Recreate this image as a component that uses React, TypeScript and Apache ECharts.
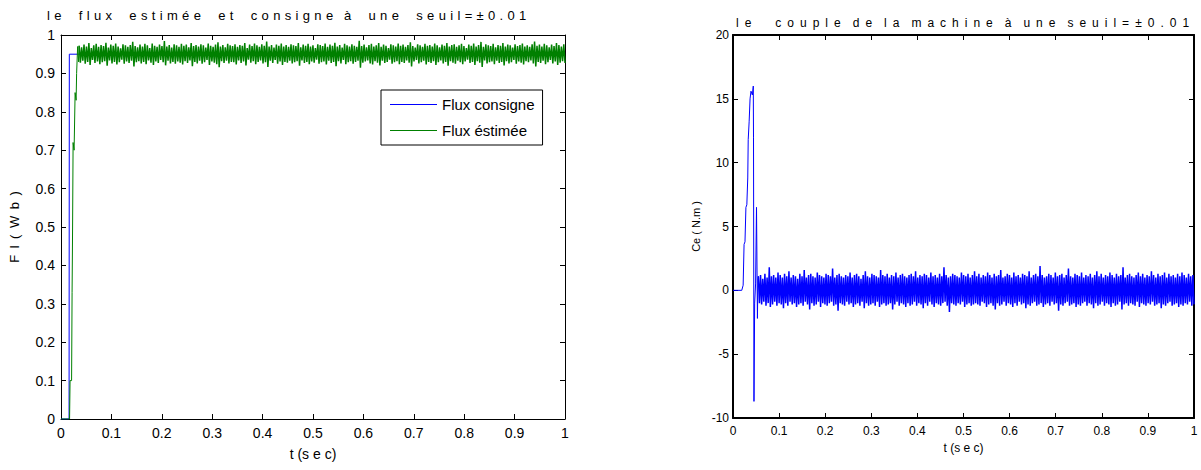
import React, { useEffect, useRef } from "react";
import * as echarts from "echarts";

// ---------- data ----------
const titleLeftWords = ["le", "flux", "estimée", "et", "consigne", "à", "une", "seuil=±0.01"];
const titleRightWords = ["le", "couple", "de", "la", "machine", "à", "une", "seuil=±0.01"];
const xName = "t (s e c)";
const yNameLeft = "F\u2002l\u2002(\u2002W\u2002b\u2002)";
const yNameRight = "Ce ( N.m )";
const legendNames = ["Flux consigne", "Flux éstimée"];

// Flux consigne (time, value)
const fluxRefT = [0, 0.016, 0.0165, 1];
const fluxRefV = [0, 0, 0.95, 0.95];

// Flux estimée : start-up transient
const fluxEstT = [0, 0.017, 0.018, 0.021, 0.022, 0.023, 0.024, 0.026, 0.028, 0.030, 0.031, 0.033, 0.035];
const fluxEstV = [0, 0, 0.1, 0.1, 0.33, 0.5, 0.72, 0.7, 0.85, 0.83, 0.9, 0.97, 0.93];
// Flux estimée : ripple band (upper / lower envelope samples)
const fluxNoiseStart = 0.036;
const fluxNoiseEnd = 1;
const fluxUpper = [
  0.972,0.968,0.975,0.970,0.979,0.966,0.973,0.977,0.969,0.974,
  0.971,0.980,0.967,0.975,0.972,0.978,0.970,0.965,0.976,0.973,
  0.969,0.974,0.982,0.971,0.968,0.975,0.970,0.977,0.973,0.966,
  0.978,0.972,0.969,0.975,0.971,0.984,0.970,0.974,0.967,0.976,
  0.973,0.969,0.977,0.972,0.975,0.968,0.979,0.971,0.974,0.970,
  0.976,0.973,0.967,0.978,0.972,0.969,0.975,0.981,0.970,0.974,
  0.968,0.977,0.973,0.971,0.976,0.969,0.974,0.972,0.979,0.966,
  0.975,0.971,0.978,0.973,0.969,0.976,0.972,0.983,0.970,0.974,
  0.967,0.975,0.972,0.978,0.970,0.974,0.969,0.976,0.973,0.971,
  0.979,0.968,0.975,0.972,0.977,0.970,0.973,0.966,0.976,0.974,
  0.971,0.978,0.969,0.975,0.972,0.980,0.970,0.974,0.967,0.977,
  0.973,0.970,0.976,0.972,0.969,0.985,0.971,0.975,0.968,0.974,
  0.977,0.970,0.973,0.979,0.969,0.975,0.972,0.966,0.976,0.973,
  0.970,0.978,0.972,0.975,0.969,0.974,0.981,0.971,0.967,0.976,
  0.973,0.969,0.977,0.972,0.974,0.970,0.978,0.973,0.968,0.975,
  0.972,0.979,0.970,0.974,0.976,0.969,0.973,0.977,0.971,0.966,
  0.975,0.972,0.978,0.970,0.974,0.982,0.969,0.976,0.973,0.971,
  0.977,0.968,0.974,0.972,0.979,0.970,0.975,0.973,0.967,0.976,
  0.971,0.974,0.978,0.970,0.973,0.969,0.976,0.983,0.972,0.975,
  0.970,0.977,0.973,0.968,0.975,0.971,0.979,0.974,0.970,0.976,
];
const fluxLower = [
  0.928,0.933,0.925,0.930,0.922,0.935,0.927,0.931,0.924,0.929,
  0.932,0.920,0.934,0.926,0.930,0.923,0.929,0.936,0.925,0.931,
  0.927,0.933,0.918,0.929,0.932,0.926,0.930,0.924,0.934,0.928,
  0.922,0.931,0.927,0.935,0.929,0.921,0.933,0.926,0.930,0.925,
  0.931,0.928,0.923,0.932,0.927,0.934,0.919,0.930,0.926,0.933,
  0.925,0.929,0.935,0.922,0.931,0.928,0.924,0.916,0.932,0.927,
  0.933,0.926,0.930,0.929,0.923,0.934,0.927,0.931,0.921,0.936,
  0.928,0.932,0.924,0.930,0.934,0.926,0.929,0.917,0.933,0.927,
  0.935,0.925,0.931,0.922,0.930,0.928,0.933,0.926,0.929,0.932,
  0.920,0.934,0.927,0.930,0.924,0.931,0.928,0.936,0.925,0.929,
  0.931,0.923,0.933,0.927,0.930,0.919,0.932,0.926,0.935,0.924,
  0.929,0.932,0.925,0.930,0.933,0.915,0.928,0.931,0.934,0.926,
  0.923,0.932,0.928,0.921,0.933,0.927,0.930,0.936,0.925,0.929,
  0.932,0.924,0.930,0.927,0.934,0.928,0.918,0.931,0.935,0.926,
  0.929,0.933,0.923,0.930,0.927,0.932,0.922,0.929,0.934,0.926,
  0.930,0.920,0.932,0.928,0.925,0.933,0.929,0.924,0.931,0.936,
  0.927,0.930,0.922,0.932,0.928,0.917,0.934,0.926,0.929,0.931,
  0.924,0.933,0.927,0.930,0.921,0.932,0.926,0.929,0.935,0.925,
  0.931,0.928,0.923,0.932,0.929,0.934,0.926,0.918,0.930,0.927,
  0.933,0.924,0.929,0.935,0.926,0.931,0.922,0.928,0.932,0.927,
];

// Couple : start-up transient
const torqueT = [0, 0.019, 0.022, 0.024, 0.026, 0.028, 0.030, 0.032, 0.033, 0.035, 0.037, 0.039, 0.042, 0.044, 0.0445, 0.0455, 0.047, 0.049, 0.051, 0.053, 0.054];
const torqueV = [0, 0, 0.4, 3.6, 3.8, 6.5, 6.7, 8.8, 11.8, 13.2, 15.0, 15.6, 15.3, 16.0, 12.0, -8.7, -1.0, 0.5, 6.5, -2.2, 0.8];
// Couple : ripple band (upper / lower envelope samples)
const torqueNoiseStart = 0.055;
const torqueNoiseEnd = 1;
const torqueUpper = [
  1.1,1.2,0.9,1.3,1.0,1.8,1.1,1.2,1.0,1.4,
  1.2,1.0,1.3,1.1,1.5,1.0,1.2,1.1,0.9,1.3,
  1.1,1.6,1.0,1.2,1.3,1.1,1.0,1.4,1.2,1.1,
  1.0,1.3,1.2,1.1,1.7,1.0,1.2,1.3,1.1,1.0,
  1.2,1.1,1.4,1.0,1.2,1.3,1.1,0.9,1.2,1.5,
  1.1,1.0,1.3,1.2,1.1,1.0,1.6,1.2,1.1,1.3,
  1.0,1.2,1.1,1.4,1.0,1.2,1.3,1.1,1.0,1.2,
  1.3,1.1,1.5,1.0,1.2,1.1,1.3,1.2,1.0,1.4,
  1.1,1.2,1.0,1.3,1.1,1.8,1.2,1.0,1.1,1.3,
  1.2,1.1,1.0,1.4,1.2,1.1,1.3,1.0,1.2,1.5,
  1.1,1.3,1.0,1.2,1.1,1.4,1.2,1.0,1.3,1.1,
  1.2,1.6,1.0,1.1,1.3,1.2,1.0,1.4,1.1,1.2,
  1.0,1.3,1.2,1.1,1.5,1.0,1.2,1.3,1.1,1.9,
  1.2,1.0,1.1,1.3,1.2,1.0,1.4,1.1,1.2,1.3,
  1.0,1.2,1.7,1.1,1.0,1.3,1.2,1.1,1.4,1.0,
  1.2,1.1,1.3,1.0,1.2,1.5,1.1,1.3,1.0,1.2,
  1.1,1.4,1.2,1.0,1.3,1.1,1.2,1.8,1.0,1.2,
  1.3,1.1,1.0,1.2,1.4,1.1,1.3,1.0,1.2,1.1,
  1.5,1.2,1.0,1.3,1.1,1.2,1.4,1.0,1.3,1.1,
  1.2,1.0,1.3,1.1,1.4,1.2,1.0,1.3,1.1,1.2,
];
const torqueLower = [
  -1.0,-1.1,-0.9,-1.2,-1.0,-1.3,-1.1,-0.9,-1.2,-1.0,
  -1.1,-1.4,-1.0,-1.2,-0.9,-1.1,-1.0,-1.3,-1.1,-1.0,
  -1.2,-0.9,-1.1,-1.5,-1.0,-1.2,-1.1,-0.9,-1.3,-1.0,
  -1.1,-1.2,-1.0,-0.9,-1.2,-1.1,-1.6,-1.0,-1.1,-1.2,
  -0.9,-1.1,-1.0,-1.3,-1.1,-1.0,-1.2,-0.9,-1.4,-1.0,
  -1.2,-1.1,-1.0,-1.2,-0.9,-1.3,-1.1,-1.0,-1.2,-1.1,
  -1.0,-1.5,-1.1,-0.9,-1.2,-1.0,-1.1,-1.3,-1.0,-1.2,
  -1.1,-0.9,-1.2,-1.0,-1.1,-1.4,-1.0,-1.2,-0.9,-1.1,
  -1.3,-1.0,-1.1,-1.2,-1.0,-0.9,-1.2,-1.7,-1.0,-1.1,
  -1.2,-1.0,-1.1,-0.9,-1.3,-1.1,-1.0,-1.2,-1.1,-1.0,
  -1.1,-1.2,-0.9,-1.0,-1.3,-1.1,-1.0,-1.2,-1.5,-1.0,
  -1.2,-1.1,-0.9,-1.2,-1.0,-1.1,-1.3,-1.0,-1.2,-0.9,
  -1.1,-1.0,-1.4,-1.1,-1.2,-1.0,-0.9,-1.2,-1.1,-1.0,
  -1.3,-1.1,-1.0,-1.2,-0.9,-1.1,-1.0,-1.6,-1.1,-1.2,
  -1.0,-0.9,-1.2,-1.1,-1.0,-1.3,-1.1,-1.2,-1.0,-0.9,
  -1.2,-1.0,-1.1,-1.4,-1.0,-1.2,-1.1,-0.9,-1.2,-1.0,
  -1.1,-1.3,-1.0,-1.2,-1.1,-0.9,-1.5,-1.1,-1.0,-1.2,
  -1.0,-1.1,-1.2,-0.9,-1.3,-1.0,-1.1,-1.2,-1.0,-1.1,
  -0.9,-1.2,-1.1,-1.0,-1.4,-1.1,-1.2,-1.0,-0.9,-1.2,
  -1.1,-1.0,-1.3,-1.1,-1.2,-1.0,-1.1,-0.9,-1.2,-1.1,
];

// ---------- helpers ----------
function pairs(t: number[], v: number[]) {
  return t.map((x, i) => [x, v[i]]);
}
function band(t0: number, t1: number, upper: number[], lower: number[]) {
  const n = upper.length * 2;
  const out: number[][] = [];
  for (let i = 0; i < upper.length; i++) {
    out.push([t0 + ((2 * i) * (t1 - t0)) / (n - 1), upper[i]]);
    out.push([t0 + ((2 * i + 1) * (t1 - t0)) / (n - 1), lower[i]]);
  }
  return out;
}
// letter-spaced title: letters separated by `sep`, words by the given gaps
function spacedTitle(words: string[], sep: string, gaps: string[]) {
  const w = words.map((x) => Array.from(x).join(sep));
  let s = w[0];
  for (let i = 1; i < w.length; i++) s += gaps[i - 1] + w[i];
  return s;
}

const FONT = "'Liberation Sans', Arial, sans-serif";
const fmt = (v: number) => String(Math.round(v * 10) / 10);

function axisX(grid: number, top: boolean, fs: number, lw: number, name?: string, nameGap?: number) {
  return {
    gridIndex: grid,
    type: "value",
    position: top ? "top" : "bottom",
    min: 0,
    max: 1,
    interval: 0.1,
    axisLine: { show: true, onZero: false, lineStyle: { color: "#000", width: lw } },
    axisTick: { show: true, inside: true, length: 5, lineStyle: { color: "#000", width: 1 } },
    axisLabel: { show: !top, fontSize: fs, color: "#000", fontFamily: FONT, margin: 7, formatter: fmt },
    splitLine: { show: false },
    name: top ? "" : name,
    nameLocation: "middle",
    nameGap: nameGap,
    nameTextStyle: { fontSize: fs, color: "#000", fontFamily: FONT },
  };
}
function axisY(grid: number, right: boolean, min: number, max: number, interval: number, fs: number, lw: number, margin: number, name?: string, nameGap?: number, formatter?: any) {
  return {
    gridIndex: grid,
    type: "value",
    position: right ? "right" : "left",
    min,
    max,
    interval,
    axisLine: { show: true, onZero: false, lineStyle: { color: "#000", width: lw } },
    axisTick: { show: true, inside: true, length: 5, lineStyle: { color: "#000", width: 1 } },
    axisLabel: { show: !right, fontSize: fs, color: "#000", fontFamily: FONT, margin, formatter },
    splitLine: { show: false },
    name: right ? "" : name,
    nameLocation: "middle",
    nameRotate: 90,
    nameGap: nameGap,
    nameTextStyle: { fontSize: fs - 1, color: "#000", fontFamily: FONT },
  };
}

export default function App() {
  const ref = useRef<HTMLDivElement>(null);
  useEffect(() => {
    if (!ref.current) return;
    const chart = echarts.init(ref.current, null, { renderer: "svg" });
    const fluxNoise = band(fluxNoiseStart, fluxNoiseEnd, fluxUpper, fluxLower);
    const torqueNoise = band(torqueNoiseStart, torqueNoiseEnd, torqueUpper, torqueLower);
    const W = "\u2003\u2004";
    const tl = spacedTitle(titleLeftWords, "\u2004", [W, W, W, W, "\u2002\u2004", W, W]);
    const E = "\u2003";
    const tr = spacedTitle(titleRightWords, "\u2002", [E + E, E, E, E, E, E, E]);
    chart.setOption({
      animation: false,
      backgroundColor: "#fff",
      textStyle: { fontFamily: FONT },
      graphic: [
        {
          type: "text",
          x: 47,
          y: 15.5,
          silent: true,
          style: { text: tl, fill: "#000", fontSize: 13, fontFamily: FONT, verticalAlign: "middle", align: "left" },
        },
        {
          type: "text",
          x: 736,
          y: 23,
          silent: true,
          style: { text: tr, fill: "#000", fontSize: 12, fontFamily: FONT, verticalAlign: "middle", align: "left" },
        },
      ],
      legend: {
        data: legendNames,
        orient: "vertical",
        left: 381,
        top: 90,
        icon: "rect",
        itemWidth: 47,
        itemHeight: 1,
        itemGap: 11,
        padding: [7, 8, 7, 9],
        borderColor: "#000",
        borderWidth: 1,
        backgroundColor: "#fff",
        textStyle: { fontSize: 15, color: "#000", fontFamily: FONT },
      },
      grid: [
        { left: 61, top: 35, width: 504, height: 384, show: false },
        { left: 733, top: 35, width: 461, height: 383, show: false },
      ],
      xAxis: [
        axisX(0, false, 14, 1, xName, 28),
        axisX(0, true, 14, 1),
        axisX(1, false, 12, 2, xName, 23),
        axisX(1, true, 12, 2),
      ],
      yAxis: [
        axisY(0, false, 0, 1, 0.1, 14, 1, 6, yNameLeft, 40, fmt),
        axisY(0, true, 0, 1, 0.1, 14, 1, 6),
        axisY(1, false, -10, 20, 5, 12, 2, 4, yNameRight, 32),
        axisY(1, true, -10, 20, 5, 12, 2, 4),
      ],
      series: [
        {
          name: legendNames[0],
          type: "line",
          xAxisIndex: 0,
          yAxisIndex: 0,
          symbol: "none",
          data: pairs(fluxRefT, fluxRefV),
          lineStyle: { color: "#0000ff", width: 1 },
          itemStyle: { color: "#0000ff" },
        },
        {
          name: legendNames[1],
          type: "line",
          xAxisIndex: 0,
          yAxisIndex: 0,
          symbol: "none",
          data: [...pairs(fluxEstT, fluxEstV), fluxNoise[0]],
          lineStyle: { color: "#008000", width: 1 },
          itemStyle: { color: "#008000" },
        },
        {
          name: legendNames[1],
          type: "line",
          xAxisIndex: 0,
          yAxisIndex: 0,
          symbol: "none",
          data: fluxNoise,
          lineStyle: { color: "#008000", width: 1.5 },
          itemStyle: { color: "#008000" },
        },
        {
          name: "Ce",
          type: "line",
          xAxisIndex: 2,
          yAxisIndex: 2,
          symbol: "none",
          data: [...pairs(torqueT, torqueV), torqueNoise[0]],
          lineStyle: { color: "#0000ff", width: 1 },
          itemStyle: { color: "#0000ff" },
        },
        {
          name: "Ce",
          type: "line",
          xAxisIndex: 2,
          yAxisIndex: 2,
          symbol: "none",
          data: torqueNoise,
          lineStyle: { color: "#0000ff", width: 1.5 },
          itemStyle: { color: "#0000ff" },
        },
      ],
    });
    return () => chart.dispose();
  }, []);
  return (
    <div
      ref={ref}
      style={{ position: "fixed", left: 0, top: 0, width: 1201, height: 470, background: "#fff" }}
    />
  );
}
